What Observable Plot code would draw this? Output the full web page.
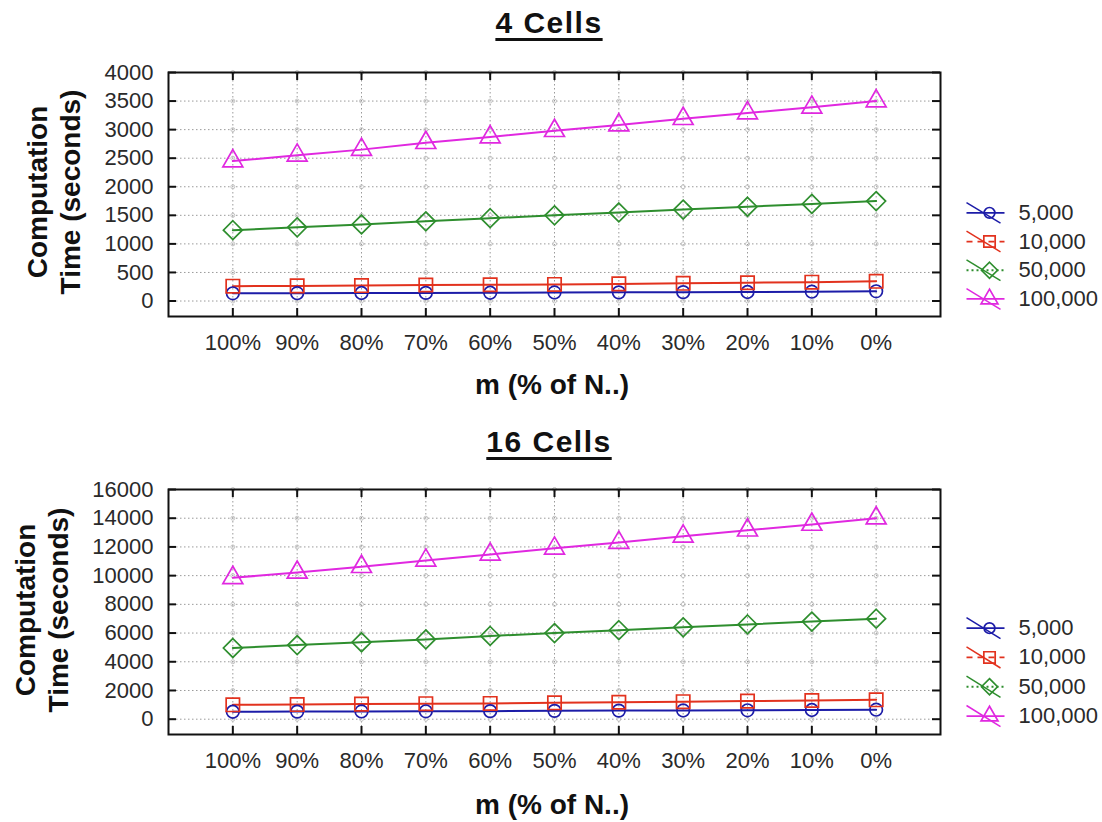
<!DOCTYPE html>
<html>
<head>
<meta charset="utf-8">
<script src="https://cdn.jsdelivr.net/npm/d3@7"></script>
<script src="https://cdn.jsdelivr.net/npm/@observablehq/plot@0.6"></script>
<style>
  body { margin: 0; background: #fff; }
  #wrap { position: relative; width: 1102px; height: 822px; overflow: hidden; font-family: "Liberation Sans", Arial, sans-serif; background:#fff; }
  .abs { position: absolute; }
  .title { font-weight: bold; font-size: 30px; line-height: 30px; letter-spacing: 1.5px; color: #111;
           text-decoration: underline; text-decoration-thickness: 3px; text-underline-offset: 5px;
           transform: translateX(-50%); white-space: nowrap; }
  .xlab { font-weight: bold; font-size: 28px; line-height: 28px; color: #111; transform: translateX(-50%); white-space: nowrap; }
  .ylab { font-weight: bold; font-size: 28px; line-height: 33px; color: #111; text-align: center; white-space: nowrap;
          transform: translate(-50%, -50%) rotate(-90deg); }
</style>
</head>
<body>
<div id="wrap"></div>
<script>
// ---------- data ----------
const mValues = [100, 90, 80, 70, 60, 50, 40, 30, 20, 10, 0];
const seriesNames = ["5,000", "10,000", "50,000", "100,000"];

const cells4_5000   = [135, 137, 140, 142, 145, 150, 152, 155, 158, 163, 170];
const cells4_10000  = [260, 265, 270, 280, 285, 290, 300, 310, 320, 330, 345];
const cells4_50000  = [1240, 1290, 1340, 1395, 1450, 1500, 1550, 1600, 1650, 1700, 1750];
const cells4_100000 = [2450, 2550, 2650, 2770, 2870, 2980, 3080, 3190, 3290, 3390, 3500];

const cells16_5000   = [520, 530, 540, 550, 560, 580, 600, 610, 620, 640, 660];
const cells16_10000  = [1000, 1020, 1050, 1080, 1100, 1140, 1180, 1220, 1260, 1300, 1350];
const cells16_50000  = [4960, 5160, 5360, 5560, 5800, 6000, 6200, 6400, 6600, 6800, 7000];
const cells16_100000 = [9850, 10220, 10620, 11060, 11480, 11900, 12300, 12740, 13160, 13560, 14000];

const yTicks4  = [0, 500, 1000, 1500, 2000, 2500, 3000, 3500, 4000];
const yTicks16 = [0, 2000, 4000, 6000, 8000, 10000, 12000, 14000, 16000];

const panelTitles = ["4 Cells", "16 Cells"];
const xLabel = "m (% of N..)";
const yLabelLines = ["Computation", "Time (seconds)"];

// ---------- styles ----------
const colors  = ["#1c1ca8", "#e2321e", "#2e8e2e", "#e028e0"];
const symbols = ["circle", "square2", "diamond2", "triangle2"];
const dashes  = [null, "6,5", "2,3", null];
const symR    = [6.3, 8.5, 8.5, 9.5];

function table(arrays) {
  const rows = [];
  arrays.forEach((arr, s) => arr.forEach((v, i) => rows.push({m: mValues[i], t: v, series: seriesNames[s]})));
  return rows;
}

const wrap = document.getElementById("wrap");
const W = 1102, mL = 168, mR = 162;

function panel(cfg) {
  const data = table(cfg.arrays);
  const frameW = W - mL - mR;
  const frameH = cfg.height - cfg.mt - cfg.mb;
  const cross = [];
  mValues.forEach(m => cfg.yTicks.forEach(t => cross.push({m, t})));
  const plot = Plot.plot({
    width: W, height: cfg.height,
    marginLeft: mL, marginRight: mR, marginTop: cfg.mt, marginBottom: cfg.mb,
    style: {fontFamily: "'Liberation Sans', Arial, sans-serif", fontSize: "22px", color: "#2a2a2a", background: "transparent"},
    x: {domain: [110, -10]},
    y: {domain: cfg.yDomain},
    color: {domain: seriesNames, range: colors},
    symbol: {domain: seriesNames, range: symbols},
    marks: [
      Plot.gridX(mValues, {stroke: "#9a9a9a", strokeOpacity: 1, strokeDasharray: "1.5,2.5"}),
      Plot.gridY(cfg.yTicks, {stroke: "#9a9a9a", strokeOpacity: 1, strokeDasharray: "1.5,2.5"}),
      Plot.dot(cross, {x: "m", y: "t", r: 2, stroke: "#c4c4c4", strokeWidth: 1}),
      Plot.frame({stroke: "#111", strokeWidth: 2}),
      Plot.tickX(mValues, {x: d => d, insetBottom: frameH - 8, stroke: "#111", strokeWidth: 2}),
      Plot.tickX(mValues, {x: d => d, insetTop: frameH - 8, stroke: "#111", strokeWidth: 2}),
      Plot.tickY(cfg.yTicks, {y: d => d, insetRight: frameW - 8, stroke: "#111", strokeWidth: 2}),
      Plot.tickY(cfg.yTicks, {y: d => d, insetLeft: frameW - 8, stroke: "#111", strokeWidth: 2}),
      Plot.axisX(mValues, {tickSize: 0, tickPadding: 18, tickFormat: d => d + "%", label: null, fontSize: 22}),
      Plot.axisY(cfg.yTicks, {tickSize: 0, tickPadding: 15, tickFormat: d => String(d), label: null, fontSize: 22}),
      ...seriesNames.map((s, k) => Plot.line(data.filter(d => d.series === s), {x: "m", y: "t", stroke: colors[k], strokeWidth: 2})),
      ...seriesNames.map((s, k) => Plot.dot(data.filter(d => d.series === s), {x: "m", y: "t", symbol: "series", stroke: colors[k], r: symR[k], strokeWidth: 1.7, fill: "none"}))
    ]
  });
  plot.classList.add("abs");
  plot.style.left = "0px";
  plot.style.top = cfg.top + "px";
  wrap.appendChild(plot);

  // legend (its own small plot)
  const rows = seriesNames.map((s, i) => ({s, i}));
  const H = cfg.legendStep * 4;
  const leg = Plot.plot({
    width: 142, height: H, margin: 0,
    style: {fontFamily: "'Liberation Sans', Arial, sans-serif", fontSize: "22px", color: "#2a2a2a", background: "transparent", overflow: "visible"},
    x: {domain: [0, 142], range: [0, 142], axis: null},
    y: {domain: [-0.5, 3.5], range: [0, H], axis: null},
    r: {type: "identity"},
    symbol: {domain: seriesNames, range: symbols},
    marks: [
      ...rows.map(row => Plot.link([row], {x1: 6, x2: 44, y1: d => d.i, y2: d => d.i, stroke: colors[row.i], strokeWidth: 1.8,
                       strokeDasharray: dashes[row.i]})),
      Plot.link(rows, {x1: 6, x2: 40, y1: d => d.i - 0.36, y2: d => d.i + 0.36, stroke: d => colors[d.i], strokeWidth: 1.5}),
      Plot.dot(rows, {x: 29, y: d => d.i, symbol: d => d.s, stroke: d => colors[d.i], r: d => symR[d.i] * 0.85, strokeWidth: 1.7, fill: "none"}),
      Plot.text(rows, {x: 58, y: d => d.i, text: d => d.s, textAnchor: "start", fontSize: 22, fill: "#2a2a2a"})
    ]
  });
  leg.classList.add("abs");
  leg.style.left = "960px";
  leg.style.top = (cfg.legendY - cfg.legendStep / 2) + "px";
  wrap.appendChild(leg);

  // title
  const t = document.createElement("div");
  t.className = "abs title"; t.textContent = cfg.title;
  t.style.left = "549px"; t.style.top = cfg.titleTop + "px";
  wrap.appendChild(t);
  // x label
  const xl = document.createElement("div");
  xl.className = "abs xlab"; xl.textContent = xLabel;
  xl.style.left = "552px"; xl.style.top = cfg.xlabTop + "px";
  wrap.appendChild(xl);
  // y label
  const yl = document.createElement("div");
  yl.className = "abs ylab"; yl.innerHTML = yLabelLines.join("<br>");
  yl.style.left = cfg.ylabX + "px"; yl.style.top = cfg.ylabY + "px";
  wrap.appendChild(yl);
}

panel({arrays: [cells4_5000, cells4_10000, cells4_50000, cells4_100000], yTicks: yTicks4, yDomain: [-271, 4000],
       top: 0, height: 411, mt: 72, mb: 95, legendY: 212, legendStep: 28.7,
       title: panelTitles[0], titleTop: 8, xlabTop: 371, ylabX: 54, ylabY: 192});
panel({arrays: [cells16_5000, cells16_10000, cells16_50000, cells16_100000], yTicks: yTicks16, yDomain: [-1066, 16000],
       top: 411, height: 411, mt: 78, mb: 88, legendY: 628, legendStep: 29.3,
       title: panelTitles[1], titleTop: 427, xlabTop: 791, ylabX: 42, ylabY: 610});
</script>
</body>
</html>
